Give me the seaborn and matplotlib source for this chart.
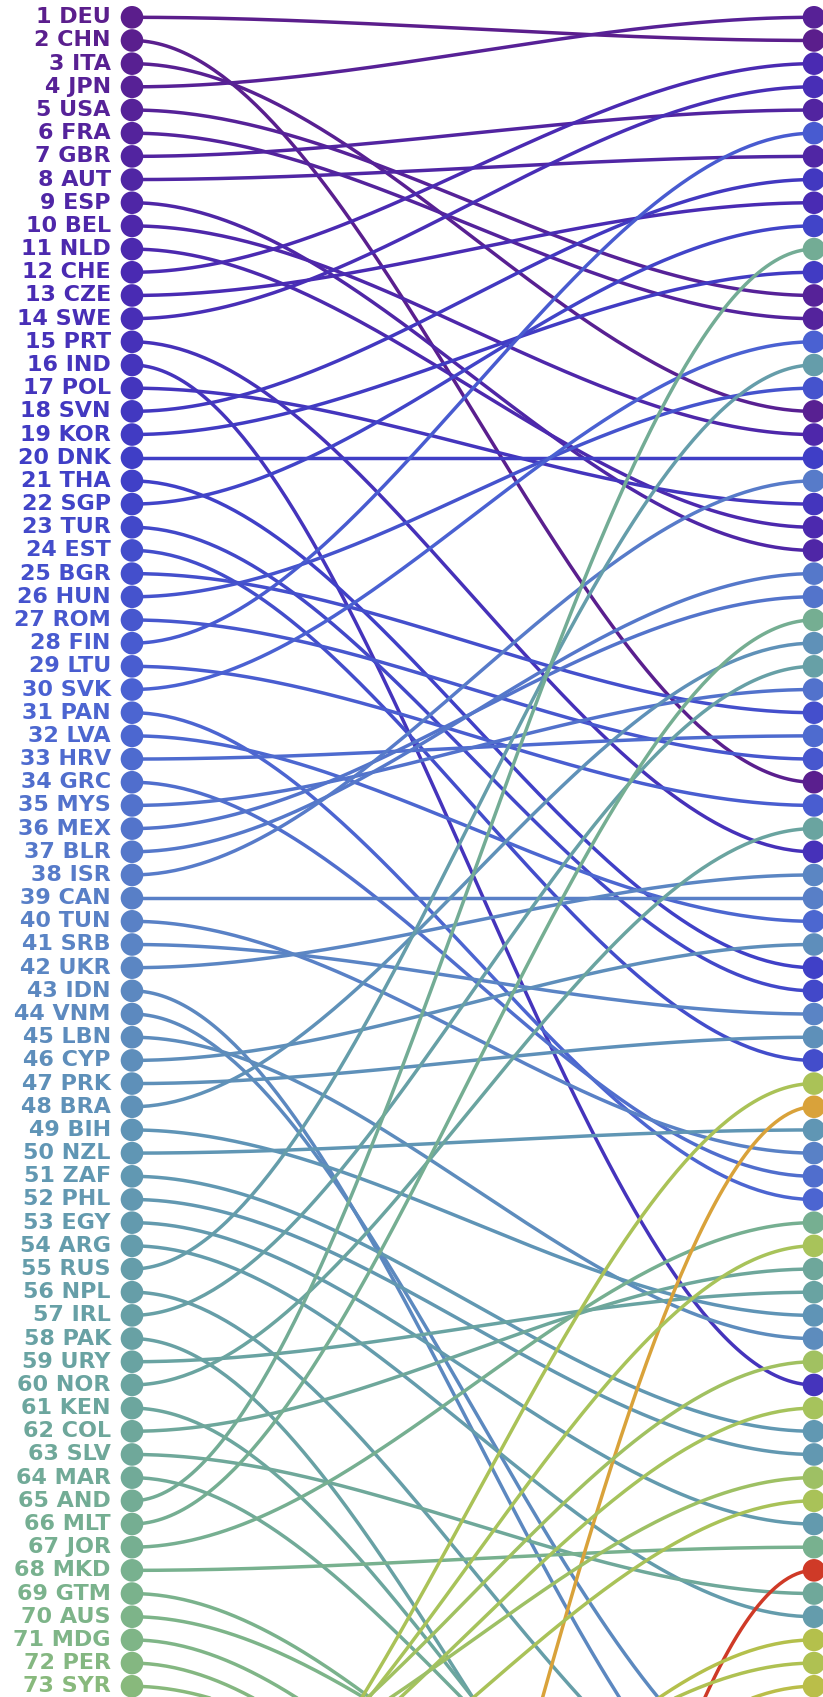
import numpy as np
import pandas as pd
import matplotlib
matplotlib.use("Agg")
import matplotlib.pyplot as plt
from matplotlib.colors import LinearSegmentedColormap
import seaborn as sns

# left column order (rank 1..73)
countries = ["DEU", "CHN", "ITA", "JPN", "USA", "FRA", "GBR", "AUT", "ESP", "BEL",
             "NLD", "CHE", "CZE", "SWE", "PRT", "IND", "POL", "SVN", "KOR", "DNK",
             "THA", "SGP", "TUR", "EST", "BGR", "HUN", "ROM", "FIN", "LTU", "SVK",
             "PAN", "LVA", "HRV", "GRC", "MYS", "MEX", "BLR", "ISR", "CAN", "TUN",
             "SRB", "UKR", "IDN", "VNM", "LBN", "CYP", "PRK", "BRA", "BIH", "NZL",
             "ZAF", "PHL", "EGY", "ARG", "RUS", "NPL", "IRL", "PAK", "URY", "NOR",
             "KEN", "COL", "SLV", "MAR", "AND", "MLT", "JOR", "MKD", "GTM", "AUS",
             "MDG", "PER", "SYR"]
left_rank = list(range(1, 74))
# rank in the second column (values above 73 fall below the visible area)
right_rank = [2, 34, 18, 1, 13, 14, 5, 7, 24, 19,
              23, 3, 9, 4, 37, 60, 22, 8, 12, 20,
              42, 10, 43, 46, 31, 17, 33, 6, 35, 15,
              52, 40, 32, 51, 30, 26, 25, 21, 39, 50,
              44, 38, 81, 78, 58, 41, 45, 28, 57, 49,
              62, 63, 66, 70, 16, 80, 29, 89, 56, 36,
              86, 55, 69, 84, 11, 27, 53, 67, 85, 83,
              88, 90, 87]

# countries ranked below 73 on the left that climb into view on the right
hidden_left = [83, 121, 81, 79, 80, 78, 82, 148, 90, 86, 95]
hidden_right = [47, 48, 54, 59, 61, 64, 65, 68, 71, 72, 73]

# colour stops by first-column rank
stop_rank = [1, 12, 20, 30, 40, 50, 60, 70, 74, 80, 90, 100, 121, 148]
stop_color = ["#5b1e8c", "#4a2ab2", "#3f3ec6", "#4a62d2", "#5a82c6", "#6096b4",
              "#6aa4a0", "#7cb48a", "#8cba78", "#a6c35c", "#b4c04c", "#c0bb46",
              "#d9a23a", "#cf3a27"]
lo, hi = stop_rank[0], stop_rank[-1]
cmap = LinearSegmentedColormap.from_list(
    "rank", [((r - lo) / (hi - lo), c) for r, c in zip(stop_rank, stop_color)])


def rank_color(r):
    return cmap((r - lo) / (hi - lo))


names = countries + ["h%d" % r for r in hidden_left]
starts = left_rank + hidden_left
ends = right_rank + hidden_right
palette = {n: rank_color(s) for n, s in zip(names, starts)}

u = np.linspace(0, 1, 160)
s = 3 * u ** 2 - 2 * u ** 3
rows = []
for n, a, b in zip(names, starts, ends):
    for uu, ss in zip(u, s):
        rows.append((n, uu, a + (b - a) * ss))
curves = pd.DataFrame(rows, columns=["country", "x", "rank"])

dots = pd.concat([
    pd.DataFrame({"country": countries, "x": 0.0, "rank": left_rank}),
    pd.DataFrame({"country": names, "x": 1.0, "rank": ends}),
])
dots = dots[dots["rank"] <= 73]

sns.set_theme(style="white")
fig = plt.figure(figsize=(8.23, 16.97), dpi=100)
ax = fig.add_axes([0, 0, 1, 1])

sns.lineplot(data=curves, x="x", y="rank", hue="country", units="country",
             estimator=None, sort=False, palette=palette, linewidth=2.5,
             legend=False, ax=ax)
sns.scatterplot(data=dots, x="x", y="rank", hue="country", palette=palette,
                s=265, edgecolor="none", legend=False, ax=ax, zorder=3)

for n, r in zip(countries, left_rank):
    ax.text(-0.031, r, f"{r} {n}", ha="right", va="center", fontsize=16,
            fontweight="bold", color=palette[n], family="DejaVu Sans")

ax.set_xlim(-132 / 682, 1 + 9 / 682)
ax.set_ylim(1 + (1697 - 17.3) / 23.18, 1 - 17.3 / 23.18)
ax.axis("off")
fig.savefig("out.png", dpi=100)
